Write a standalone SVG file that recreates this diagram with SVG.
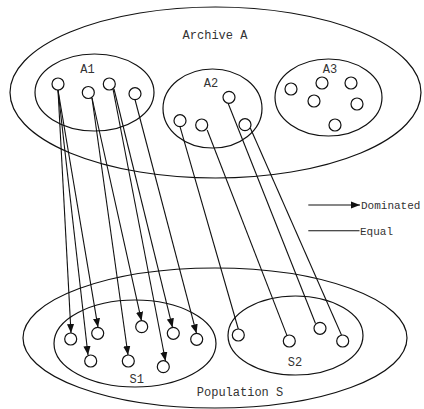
<svg xmlns="http://www.w3.org/2000/svg" width="424" height="409" viewBox="0 0 424 409">
<style>
.e{fill:none;stroke:#111;stroke-width:1.2}
.c{fill:#fff;stroke:#111;stroke-width:1.2}
.t{font-family:"Liberation Mono","DejaVu Sans Mono",monospace;font-size:12px;fill:#333}
.lg{font-family:"Liberation Mono","DejaVu Sans Mono",monospace;font-size:11px;fill:#333}
.l{stroke:#111;stroke-width:1.1;fill:none}
.a{stroke:#111;stroke-width:1.1;fill:none;marker-end:url(#ah)}
</style>
<defs>
<marker id="ah" viewBox="0 0 10 8" refX="10" refY="4" markerWidth="9" markerHeight="7.5" orient="auto" markerUnits="userSpaceOnUse">
<path d="M0,0 L10,4 L0,8 Z" fill="#111"/>
</marker>
</defs>
<g id="archive-a">
<ellipse class="e" cx="215.5" cy="92.5" rx="205.5" ry="85.5"/>
<text class="t" x="215" y="38.5" text-anchor="middle">Archive A</text>
</g>
<g id="population-s">
<ellipse class="e" cx="215" cy="338" rx="192" ry="70"/>
<text class="t" x="240" y="396" text-anchor="middle">Population S</text>
</g>
<g id="A1">
<ellipse class="e" cx="94.5" cy="92.5" rx="59.5" ry="38.5"/>
<text class="t" x="87.5" y="73.3" text-anchor="middle">A1</text>
<circle id="a1-1" class="c" cx="58" cy="84" r="6"/>
<circle id="a1-2" class="c" cx="88.3" cy="92.5" r="6"/>
<circle id="a1-3" class="c" cx="109.3" cy="84" r="6"/>
<circle id="a1-4" class="c" cx="135" cy="93.7" r="6"/>
</g>
<g id="A2">
<ellipse class="e" cx="212.5" cy="108.5" rx="49.5" ry="39.5"/>
<text class="t" x="211" y="87.3" text-anchor="middle">A2</text>
<circle id="a2-1" class="c" cx="229" cy="97.3" r="6"/>
<circle id="a2-2" class="c" cx="180" cy="120.7" r="6"/>
<circle id="a2-3" class="c" cx="201.7" cy="125" r="6"/>
<circle id="a2-4" class="c" cx="245" cy="124.7" r="6"/>
</g>
<g id="A3">
<ellipse class="e" cx="328.5" cy="97.5" rx="53.5" ry="38.5"/>
<text class="t" x="330" y="72.7" text-anchor="middle">A3</text>
<circle class="c" cx="291" cy="89" r="6"/>
<circle class="c" cx="322" cy="83" r="6"/>
<circle class="c" cx="351" cy="83" r="6"/>
<circle class="c" cx="314" cy="101" r="6"/>
<circle class="c" cx="357" cy="104" r="6"/>
<circle class="c" cx="335" cy="125" r="6"/>
</g>
<g id="S1">
<ellipse class="e" cx="135" cy="343.5" rx="81" ry="43.5"/>
<text class="t" x="136.7" y="383.3" text-anchor="middle">S1</text>
<circle id="s1-1" class="c" cx="70.7" cy="339" r="6"/>
<circle id="s1-2" class="c" cx="97.7" cy="333.3" r="6"/>
<circle id="s1-3" class="c" cx="141.7" cy="326.7" r="6"/>
<circle id="s1-4" class="c" cx="173.3" cy="333.3" r="6"/>
<circle id="s1-5" class="c" cx="196.7" cy="339.3" r="6"/>
<circle id="s1-6" class="c" cx="90.7" cy="361" r="6"/>
<circle id="s1-7" class="c" cx="128.3" cy="361" r="6"/>
<circle id="s1-8" class="c" cx="163.3" cy="366.7" r="6"/>
</g>
<g id="S2">
<ellipse class="e" cx="295.5" cy="335.5" rx="67.5" ry="39.5"/>
<text class="t" x="295" y="366" text-anchor="middle">S2</text>
<circle id="s2-1" class="c" cx="238.3" cy="335" r="6"/>
<circle id="s2-2" class="c" cx="289.3" cy="341" r="6"/>
<circle id="s2-3" class="c" cx="320" cy="328.3" r="6"/>
<circle id="s2-4" class="c" cx="342.7" cy="341" r="6"/>
</g>
<g id="connectors">
<line class="a" x1="58" y1="90" x2="71" y2="333"/>
<line class="a" x1="58" y1="90" x2="88" y2="355"/>
<line class="a" x1="58" y1="90" x2="98" y2="327.3"/>
<line class="a" x1="92" y1="98" x2="128" y2="355"/>
<line class="a" x1="92" y1="98" x2="141.5" y2="320.8"/>
<line class="a" x1="113" y1="89" x2="165.5" y2="361"/>
<line class="a" x1="114" y1="89" x2="172.5" y2="327.4"/>
<line class="a" x1="135" y1="99.5" x2="196.5" y2="333.3"/>
<line class="l" x1="180" y1="126.7" x2="238.3" y2="329"/>
<line class="l" x1="207.2" y1="130" x2="287" y2="335.6"/>
<line class="l" x1="228.1" y1="103.3" x2="315.5" y2="323.5"/>
<line class="l" x1="250.3" y1="128" x2="341.5" y2="335"/>
</g>
<g id="legend">
<line class="a" x1="308.3" y1="205" x2="360" y2="205"/>
<text class="lg" x="361" y="209">Dominated</text>
<line class="l" x1="308.3" y1="230.7" x2="359.5" y2="230.7"/>
<text class="lg" x="360" y="234.5">Equal</text>
</g>
</svg>
